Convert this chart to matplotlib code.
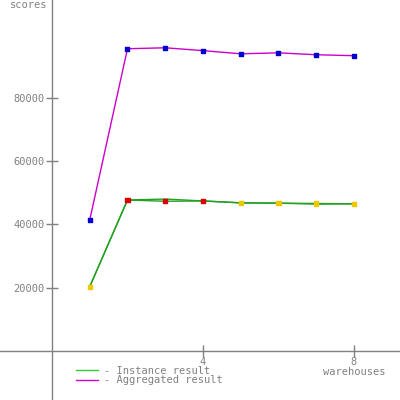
import matplotlib
matplotlib.use("Agg")
import matplotlib.pyplot as plt
from matplotlib.lines import Line2D

warehouses = [1, 2, 3, 4, 5, 6, 7, 8]
aggregated = [41400, 95500, 95800, 94900, 93900, 94200, 93600, 93300]
instance_a = [20300, 47700, 47300, 47400, 46800, 46700, 46600, 46500]
instance_b = [20300, 47700, 48000, 47400, 46800, 46700, 46400, 46500]
marker_colors = ['#f0c800', '#dd0000', '#dd0000', '#dd0000', '#f0c800', '#f0c800', '#f0c800', '#f0c800']
x_ticks = [4, 8]
y_ticks = [20000, 40000, 60000, 80000]

gray = '#808080'
font = 'DejaVu Sans Mono'

fig = plt.figure(figsize=(4, 4), dpi=100)
ax = fig.add_axes([0, 0, 1, 1])
ax.set_xlim(-1.377, 9.22)
ax.set_ylim(-15500, 110900)

for s in ['top', 'right']:
    ax.spines[s].set_visible(False)
ax.spines['left'].set_position(('data', 0))
ax.spines['bottom'].set_position(('data', 0))
for s in ['left', 'bottom']:
    ax.spines[s].set_color(gray)
    ax.spines[s].set_linewidth(1)

ax.set_xticks(x_ticks)
ax.set_xticklabels([str(t) for t in x_ticks])
ax.set_yticks(y_ticks)
ax.set_yticklabels([str(t) for t in y_ticks])
ax.tick_params(axis='both', direction='inout', length=9, color=gray, labelcolor=gray,
               labelsize=7.5, width=1)
ax.tick_params(axis='x', pad=0)
ax.tick_params(axis='y', pad=1)
for lab in ax.get_xticklabels() + ax.get_yticklabels():
    lab.set_family(font)

ax.patch.set_alpha(0)

ax.plot(warehouses, instance_b, color='#22a022', lw=1, zorder=2)
ax.plot(warehouses, instance_a, color='#22a022', lw=1, zorder=2)
ax.plot(warehouses, aggregated, color='#cc00cc', lw=1, zorder=2)
ax.scatter(warehouses, aggregated, marker='s', s=10, color='#0000cc', zorder=3)
ax.scatter(warehouses, instance_a, marker='s', s=10, c=marker_colors, zorder=3)

ax.text(-0.13, 1.0, 'scores', transform=ax.get_xaxis_transform(), ha='right', va='top',
        color=gray, fontsize=7.5, family=font)
ax.text(8, -5200, 'warehouses', ha='center', va='top',
        color=gray, fontsize=7.5, family=font)

handles = [Line2D([], [], color='#33cc33', lw=1), Line2D([], [], color='#cc00cc', lw=1)]
fig.legend(handles, ['- Instance result', '- Aggregated result'], loc='upper left',
           bbox_to_anchor=(76 / 400, 1 - 366 / 400), frameon=False,
           prop={'family': font, 'size': 7.5}, labelcolor=gray, handlelength=2.1,
           handletextpad=0.6, labelspacing=-0.05, borderpad=0, borderaxespad=0)

fig.savefig('out.png', dpi=100)
